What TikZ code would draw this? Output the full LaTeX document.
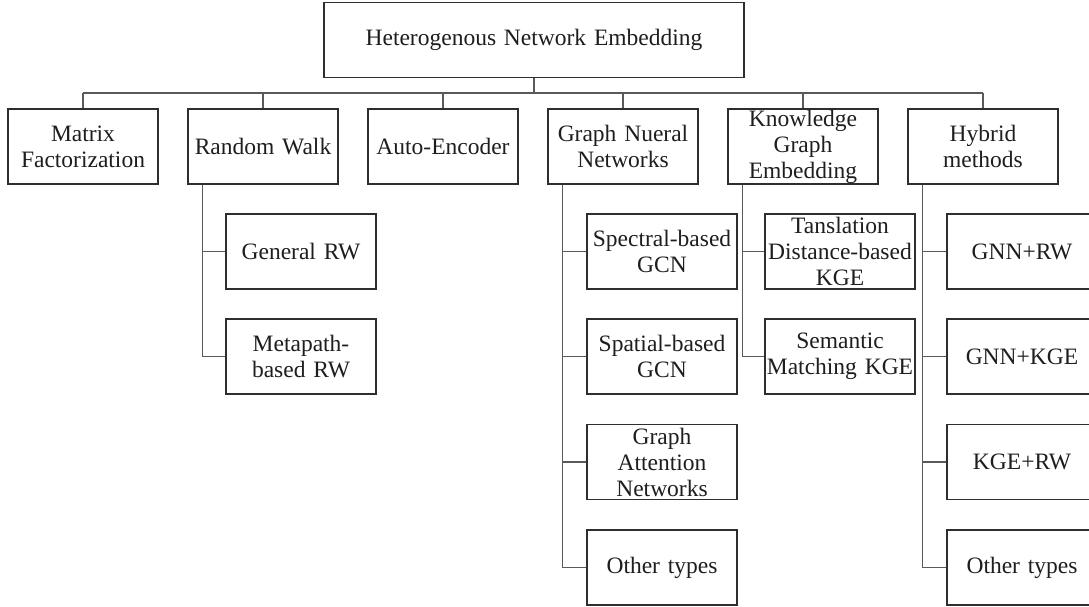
\documentclass[tikz,border=0pt]{standalone}
\usepackage{fontspec}
\setmainfont{Liberation Serif}
\definecolor{boxline}{HTML}{2E2E2E}
\definecolor{linkline}{HTML}{5A5A5A}
\definecolor{ink}{HTML}{1E1E1E}
\begin{document}
\begin{tikzpicture}[x=1pt,y=-1pt,
  box/.style={draw=boxline,line width=1.6pt,rectangle,minimum width=150pt,minimum height=75pt,
    inner sep=0pt,text width=148pt,align=center,text=ink,
    font=\fontsize{23.5}{26}\selectfont},
  rootbox/.style={box,minimum width=420pt,text width=400pt},
  link/.style={draw=linkline,line width=1.3pt}]
\useasboundingbox (0,0) rectangle (1089,607);
\clip (0,0) rectangle (1089,607);
\fill[white] (0,0) rectangle (1089,607);

% root
\node[rootbox] (root) at (534,40) {Heterogenous Network Embedding};

% first level
\node[box] (mf) at (83,146.5) {Matrix\\Factorization};
\node[box] (rw) at (263,146.5) {Random Walk};
\node[box] (ae) at (443,146.5) {Auto-Encoder};
\node[box] (gnn) at (623,146.5) {Graph Nueral\\Networks};
\node[box] (kge) at (803,146.5) {Knowledge\\Graph\\Embedding};
\node[box] (hy) at (983,146.5) {Hybrid\\methods};

% random walk
\node[box] (grw) at (301,251.5) {General RW};
\node[box] (mrw) at (301,356.5) {Metapath-\\based RW};

% graph neural networks
\node[box] (spec) at (662,251.5) {Spectral-based\\GCN};
\node[box] (spat) at (662,356.5) {Spatial-based\\GCN};
\node[box] (gat) at (662,462) {Graph\\Attention\\Networks};
\node[box] (gnno) at (662,567.5) {Other types};

% knowledge graph embedding
\node[box] (tdk) at (840,251.5) {Tanslation\\Distance-based\\KGE};
\node[box] (smk) at (840,356.5) {Semantic\\Matching KGE};

% hybrid methods
\node[box] (gr) at (1022,251.5) {GNN+RW};
\node[box] (gk) at (1022,356.5) {GNN+KGE};
\node[box] (kr) at (1022,462) {KGE+RW};
\node[box] (hyo) at (1022,567.5) {Other types};

% bus from the root to the first level
\coordinate (busy) at (0,93);
\draw[link] (root.south) -- (root.south |- busy);
\draw[link] (mf.north |- busy) -- (hy.north |- busy);
\foreach \n in {mf,rw,ae,gnn,kge,hy}
  \draw[link] (\n.north) -- (\n.north |- busy);

% spines to the second level
\draw[link] ([xshift=15pt]rw.south west) |- (grw.west);
\draw[link] ([xshift=15pt]rw.south west) |- (mrw.west);
\foreach \c in {spec,spat,gat,gnno}
  \draw[link] ([xshift=15pt]gnn.south west) |- (\c.west);
\foreach \c in {tdk,smk}
  \draw[link] ([xshift=15pt]kge.south west) |- (\c.west);
\foreach \c in {gr,gk,kr,hyo}
  \draw[link] ([xshift=15pt]hy.south west) |- (\c.west);
\end{tikzpicture}
\end{document}
